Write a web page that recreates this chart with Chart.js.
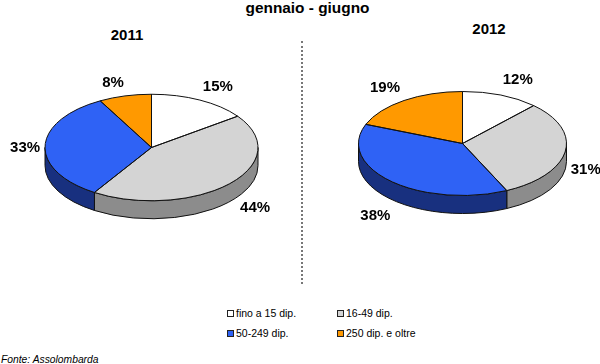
<!DOCTYPE html>
<html>
<head>
<meta charset="utf-8">
<script src="https://cdn.jsdelivr.net/npm/chart.js@4"></script>
<style>
  html, body { margin: 0; padding: 0; background: #fff; }
  body { width: 600px; height: 364px; position: relative; overflow: hidden; font-family: "Liberation Sans", Arial, sans-serif; color: #000; }
  canvas { position: absolute; top: 0; }
  .txt { position: absolute; white-space: nowrap; line-height: 1; }
  .head { font-weight: bold; font-size: 15px; transform: translateX(-50%); }
  #divider { position: absolute; left: 301px; top: 41px; height: 243px; border-left: 2px dotted #777; }
  .swatch { position: absolute; width: 5px; height: 5px; border: 1px solid #222; }
  .leg { font-size: 10.5px; }
  #source { left: 1px; top: 355px; font-size: 10.3px; font-style: italic; }
</style>
</head>
<body>
<div class="txt head" style="left:307.5px;top:0px;font-size:15.4px">gennaio - giugno</div>
<div class="txt head" id="title2011" style="left:127px;top:27px">2011</div>
<div class="txt head" id="title2012" style="left:489px;top:21px">2012</div>
<div id="divider"></div>
<div id="legend"></div>
<div class="txt" id="source">Fonte: Assolombarda</div>
<canvas id="pie2011" width="300" height="300" style="left:0"></canvas>
<canvas id="pie2012" width="300" height="300" style="left:300px"></canvas>

<script>
// categories and values
var categories = ["fino a 15 dip.", "16-49 dip.", "50-249 dip.", "250 dip. e oltre"];
var values2011 = [15, 44, 33, 8];
var values2012 = [12, 31, 38, 19];

// colours
var topColors = ["#ffffff", "#d4d4d4", "#2f62f5", "#ff9900"];
var sideColors = ["#999999", "#8c8c8c", "#18307f", "#b36b00"];

// how far each % label sits from the rim of its slice
var labelShift2011 = [[18, -13], [26, 24], [-20, 2], [-12, -13]];
var labelShift2012 = [[17, -15], [20.5, 18], [-16, 34], [-19, -13]];

var squash = 0.5;   // pie is seen from above
var depth = 18;     // height of the side wall

function ellipseSlice(ctx, a, yOff) {
  ctx.ellipse(a.x, a.y + yOff, a.outerRadius, a.outerRadius * squash, 0, a.startAngle, a.endAngle);
}

// fake 3d: draws the wall first, flattens the arcs, then outlines and labels
var fake3d = {
  id: "fake3d",
  beforeDatasetsDraw: function(chart) {
    var ctx = chart.ctx;
    var arcs = chart.getDatasetMeta(0).data;
    arcs.forEach(function(el, i) {
      var p = el.getProps(["x", "y", "startAngle", "endAngle", "outerRadius"]);
      // only the front half of the wall can be seen
      var from = Math.max(p.startAngle, 0);
      var to = Math.min(p.endAngle, Math.PI);
      if (to <= from) return;
      var rx = p.outerRadius, ry = p.outerRadius * squash;
      ctx.beginPath();
      ctx.ellipse(p.x, p.y, rx, ry, 0, from, to);
      ctx.ellipse(p.x, p.y + depth, rx, ry, 0, to, from, true);
      ctx.closePath();
      ctx.fillStyle = sideColors[i];
      ctx.fill();
      ctx.strokeStyle = "#111";
      ctx.lineWidth = 1;
      ctx.stroke();
    });
    var c = arcs[0].getProps(["x", "y"]);
    ctx.save();
    ctx.translate(c.x, c.y);
    ctx.scale(1, squash);
    ctx.translate(-c.x, -c.y);
  },
  afterDatasetsDraw: function(chart, args, opts) {
    var ctx = chart.ctx;
    ctx.restore();
    var arcs = chart.getDatasetMeta(0).data;
    var vals = chart.data.datasets[0].data;
    var total = vals.reduce(function(a, b) { return a + b; }, 0);
    arcs.forEach(function(el, i) {
      var p = el.getProps(["x", "y", "startAngle", "endAngle", "outerRadius"]);
      ctx.beginPath();
      ctx.moveTo(p.x, p.y);
      ellipseSlice(ctx, p, 0);
      ctx.closePath();
      ctx.strokeStyle = "#111";
      ctx.lineWidth = 1;
      ctx.stroke();

      var mid = (p.startAngle + p.endAngle) / 2;
      var lx = p.x + p.outerRadius * Math.cos(mid) + opts.shift[i][0];
      var ly = p.y + p.outerRadius * squash * Math.sin(mid) + opts.shift[i][1];
      ctx.fillStyle = "#000";
      ctx.font = "bold 15px 'Liberation Sans', Arial, sans-serif";
      ctx.textAlign = "center";
      ctx.textBaseline = "middle";
      ctx.fillText(Math.round(vals[i] / total * 100) + "%", lx, ly);
    });
  }
};

function makePie(id, values, shift, padding) {
  return new Chart(document.getElementById(id), {
    type: "pie",
    data: {
      labels: categories,
      datasets: [{ data: values, backgroundColor: topColors, borderWidth: 0 }]
    },
    options: {
      responsive: false,
      animation: false,
      events: [],
      layout: { padding: padding },
      plugins: { legend: { display: false }, tooltip: { enabled: false }, fake3d: { shift: shift } }
    },
    plugins: [fake3d]
  });
}

makePie("pie2011", values2011, labelShift2011, { left: 45, right: 42, top: 41, bottom: 46 });
makePie("pie2012", values2012, labelShift2012, { left: 58.5, right: 33.5, top: 39.5, bottom: 52.5 });

// legend, two columns
var legend = document.getElementById("legend");
categories.forEach(function(name, i) {
  var col = i % 2, row = Math.floor(i / 2);
  var sw = document.createElement("div");
  sw.className = "swatch";
  sw.style.left = (227 + col * 110) + "px";
  sw.style.top = (310 + row * 19.5) + "px";
  sw.style.background = topColors[i];
  legend.appendChild(sw);
  var t = document.createElement("div");
  t.className = "txt leg";
  t.textContent = name;
  t.style.left = (236 + col * 110) + "px";
  t.style.top = (308 + row * 19.5) + "px";
  legend.appendChild(t);
});
</script>
</body>
</html>
